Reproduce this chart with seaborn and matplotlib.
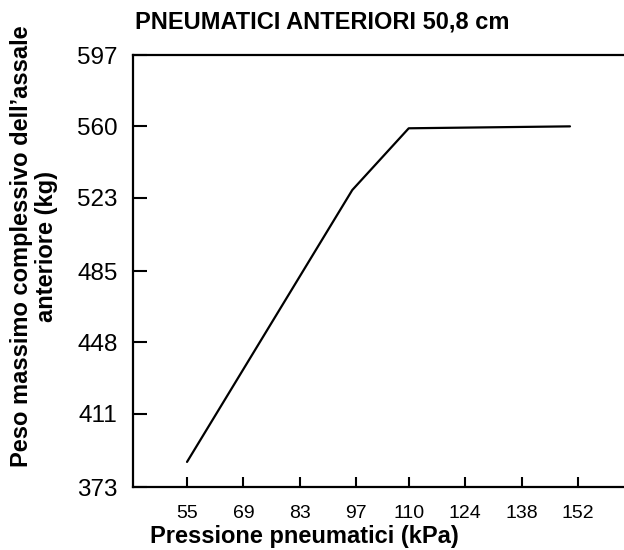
import numpy as np
import pandas as pd
import seaborn as sns
import matplotlib.pyplot as plt

# pressione (kPa) e peso massimo (kg)
pressione = [55, 96, 110, 150]
peso = [386, 527, 559, 560]

x_ticks = [55, 69, 83, 97, 110, 124, 138, 152]
y_ticks = [373, 411, 448, 485, 523, 560, 597]

sns.set_theme(style="white")
plt.rcParams['font.family'] = ['Liberation Sans', 'DejaVu Sans']
plt.rcParams['text.color'] = 'black'
plt.rcParams['xtick.color'] = 'black'
plt.rcParams['ytick.color'] = 'black'

df = pd.DataFrame({"kPa": pressione, "kg": peso})

fig = plt.figure(figsize=(6.24, 5.5), dpi=100)
ax = fig.add_axes([133 / 624, 1 - 487 / 550, 491 / 624, 432 / 550])

sns.lineplot(data=df, x="kPa", y="kg", ax=ax, color="black", linewidth=1.6)

ax.set_xlim(41.6, 163.4)
ax.set_ylim(373, 597)
ax.set_xticks(x_ticks)
ax.set_yticks(y_ticks)
ax.tick_params(axis="x", bottom=True, direction="in", length=7, width=1.5,
               labelsize=14, pad=13, color="black", labelcolor="black")
ax.tick_params(axis="y", left=True, direction="in", length=10, width=1.5,
               labelsize=17.5, pad=11, color="black", labelcolor="black")
ax.set_xlabel("")
ax.set_ylabel("")
for s in ["left", "top", "bottom"]:
    ax.spines[s].set_color("black")
    ax.spines[s].set_linewidth(1.6)
ax.spines["right"].set_visible(False)

fig.text(322 / 624, 1 - 22 / 550, "PNEUMATICI ANTERIORI 50,8 cm", ha="center", va="center",
         fontsize=17, fontweight="bold")
fig.text(304 / 624, 1 - 537 / 550, "Pressione pneumatici (kPa)", ha="center", va="center",
         fontsize=17, fontweight="bold")
fig.text(34 / 624, 1 - 246 / 550, "Peso massimo complessivo dell\u2019assale\nanteriore (kg)",
         ha="center", va="center", rotation=90, fontsize=17, fontweight="bold",
         linespacing=1.15, multialignment="center")

fig.savefig("out.png", dpi=100)
